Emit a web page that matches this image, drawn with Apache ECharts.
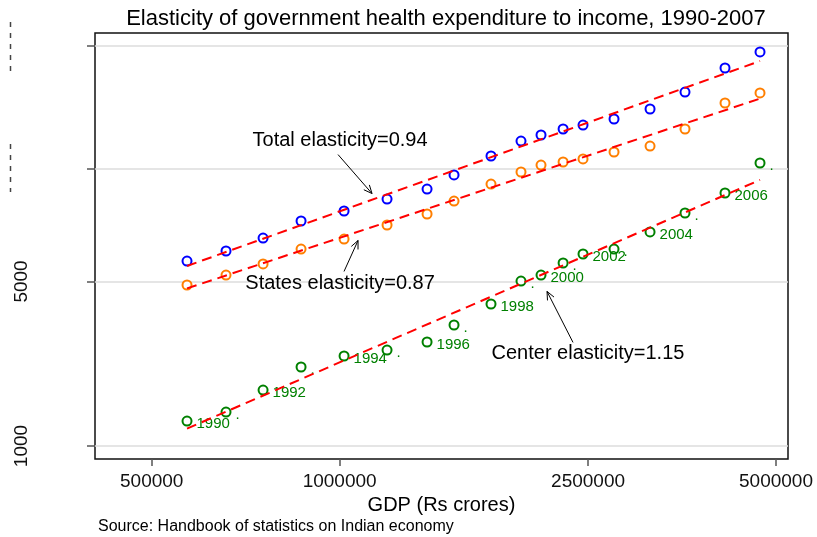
<!DOCTYPE html>
<html><head><meta charset="utf-8">
<script src="https://cdn.jsdelivr.net/npm/echarts@6/dist/echarts.min.js"></script>
<style>html,body{margin:0;padding:0;background:#fff}#c{width:817px;height:537px}</style>
</head><body><div id="c"></div>
<script>
// ---- data ----
const years = [1990,1991,1992,1993,1994,1995,1996,1997,1998,1999,2000,2001,2002,2003,2004,2005,2006,2007];
const gdp = [569500,657600,753900,867300,1016400,1191000,1380400,1524800,1747600,1952000,2101600,2279900,2453700,2751000,3141900,3574300,4142600,4713500];
const totalExp  = [6107,6736,7648,9034,9961,11200,12350,14170,17060,19750,20950,22220,23100,24500,27020,31900,40350,47190];
const statesExp = [4830,5326,5933,6868,7573,8687,9674,10980,12970,14590,15620,16090,16570,17740,18810,22220,28650,31600];
const centerExp = [1277,1394,1729,2166,2412,2557,2766,3266,4011,5022,5326,5990,6541,6868,8115,9768,11880,15930];
const xTicks = [500000,1000000,2500000,5000000];
const yTicks = [1000,5000,15000,50000];
const yLabeled = [1000,5000];
const annTexts = ['Total elasticity=0.94','States elasticity=0.87','Center elasticity=1.15'];
const annTextPos = [[1001500,19840],[1001500,4905],[2499000,2475]];
const annArrowFrom = [[994000,17300],[1016200,5514],[2364700,2755]];
const annArrowTo = [[1126700,11820],[1070200,7467],[2148700,4536]];

const FONT = '"Liberation Sans", Arial, sans-serif';

function fitLine(xs, ys){
  const lx = xs.map(Math.log10), ly = ys.map(Math.log10), n = xs.length;
  const mx = lx.reduce((a,b)=>a+b,0)/n, my = ly.reduce((a,b)=>a+b,0)/n;
  let sxy=0, sxx=0;
  for (let i=0;i<n;i++){ sxy += (lx[i]-mx)*(ly[i]-my); sxx += (lx[i]-mx)*(lx[i]-mx); }
  const b = sxy/sxx, a = my - b*mx;
  return [[xs[0], Math.pow(10, a+b*lx[0])], [xs[n-1], Math.pow(10, a+b*lx[n-1])]];
}
const pts = ys => gdp.map((g,i)=>[g, ys[i]]);

const chart = echarts.init(document.getElementById('c'), null, {renderer:'canvas'});
const dashLine = {color:'#ff0000', width:2, type:[10,6]};
const circ = c => ({color:c, borderColor:c, borderWidth:2, opacity:1});
chart.setOption({
  animation:false,
  backgroundColor:'#fff',
  textStyle:{fontFamily:FONT},
  title:{text:'Elasticity of government health expenditure to income, 1990-2007', left:441, textAlign:'center', top:3,
    textStyle:{fontSize:22, fontWeight:'normal', color:'#000', fontFamily:FONT}},
  grid:{left:95, right:29, top:33, bottom:78, show:true, borderColor:'#111', borderWidth:1.5, backgroundColor:'#fff'},
  xAxis:{type:'log', min:405600, max:5226000,
    name:'GDP (Rs crores)', nameLocation:'middle', nameGap:27,
    nameTextStyle:{fontSize:20, color:'#000', fontFamily:FONT},
    axisLine:{show:false}, splitLine:{show:false}, minorTick:{show:false},
    axisTick:{show:true, customValues:xTicks, length:7, lineStyle:{color:'#555', width:1.5}},
    axisLabel:{customValues:xTicks, fontSize:19, color:'#111', margin:13, fontFamily:FONT, formatter:v=>String(Math.round(v))}},
  yAxis:{type:'log', min:880.7, max:56820,
    axisLine:{show:false}, splitLine:{show:false}, minorTick:{show:false},
    axisTick:{show:true, customValues:yTicks, length:8, lineStyle:{color:'#555', width:1.5}},
    axisLabel:{customValues:yLabeled, rotate:90, fontSize:19, color:'#111', margin:64, fontFamily:FONT, formatter:v=>String(Math.round(v))}},
  series:[
    {type:'line', data:[], markLine:{silent:true, z:1, symbol:'none', label:{show:false},
      lineStyle:{color:'#dcdcdc', width:1.5, type:'solid'}, data:yTicks.map(v=>({yAxis:v}))}},
    {name:'Total', type:'scatter', data:pts(totalExp), symbol:'emptyCircle', symbolSize:9,
      itemStyle:circ('#0000ff'), z:3},
    {name:'States', type:'scatter', data:pts(statesExp), symbol:'emptyCircle', symbolSize:9,
      itemStyle:circ('#ff7f00'), z:3},
    {name:'Center', type:'scatter', data:pts(centerExp), symbol:'emptyCircle', symbolSize:9,
      itemStyle:circ('#008000'), z:3,
      label:{show:true, position:'right', distance:4, offset:[0,3], fontSize:15, color:'#008000', fontFamily:FONT,
        formatter:p=>(years[p.dataIndex]%2===0 ? String(years[p.dataIndex]) : '.')}},
    {type:'line', data:fitLine(gdp,totalExp), symbol:'none', lineStyle:dashLine, z:4},
    {type:'line', data:fitLine(gdp,statesExp), symbol:'none', lineStyle:dashLine, z:4},
    {type:'line', data:fitLine(gdp,centerExp), symbol:'none', lineStyle:dashLine, z:4}
  ]
});

// annotations placed in data coordinates
const g = [];
const toPx = p => chart.convertToPixel({gridIndex:0}, p);
annTexts.forEach((t,i)=>{
  const tp = toPx(annTextPos[i]);
  g.push({type:'text', z:10, style:{text:t, x:tp[0], y:tp[1], textAlign:'center', textVerticalAlign:'middle',
    font:'20px '+FONT, fill:'#000'}});
  const a = toPx(annArrowFrom[i]), b = toPx(annArrowTo[i]);
  g.push({type:'line', z:10, shape:{x1:a[0],y1:a[1],x2:b[0],y2:b[1]}, style:{stroke:'#000', lineWidth:1}});
  const ang = Math.atan2(b[1]-a[1], b[0]-a[0]), L = 9, w = 0.42;
  g.push({type:'polyline', z:10, shape:{points:[
    [b[0]-L*Math.cos(ang-w), b[1]-L*Math.sin(ang-w)], b,
    [b[0]-L*Math.cos(ang+w), b[1]-L*Math.sin(ang+w)]]}, style:{stroke:'#000', lineWidth:1, fill:null}});
});
// clipped remnants of the upper y labels at the far left edge
g.push({type:'line', z:10, shape:{x1:10.5,y1:22,x2:10.5,y2:71}, style:{stroke:'#444', lineWidth:1.5, lineDash:[5,6]}});
g.push({type:'line', z:10, shape:{x1:10.5,y1:144,x2:10.5,y2:192}, style:{stroke:'#444', lineWidth:1.5, lineDash:[5,6]}});
// source note
g.push({type:'text', left:98, top:519, z:10, style:{text:'Source: Handbook of statistics on Indian economy', font:'16px '+FONT, fill:'#000'}});
chart.setOption({graphic:g});
</script>
</body></html>
